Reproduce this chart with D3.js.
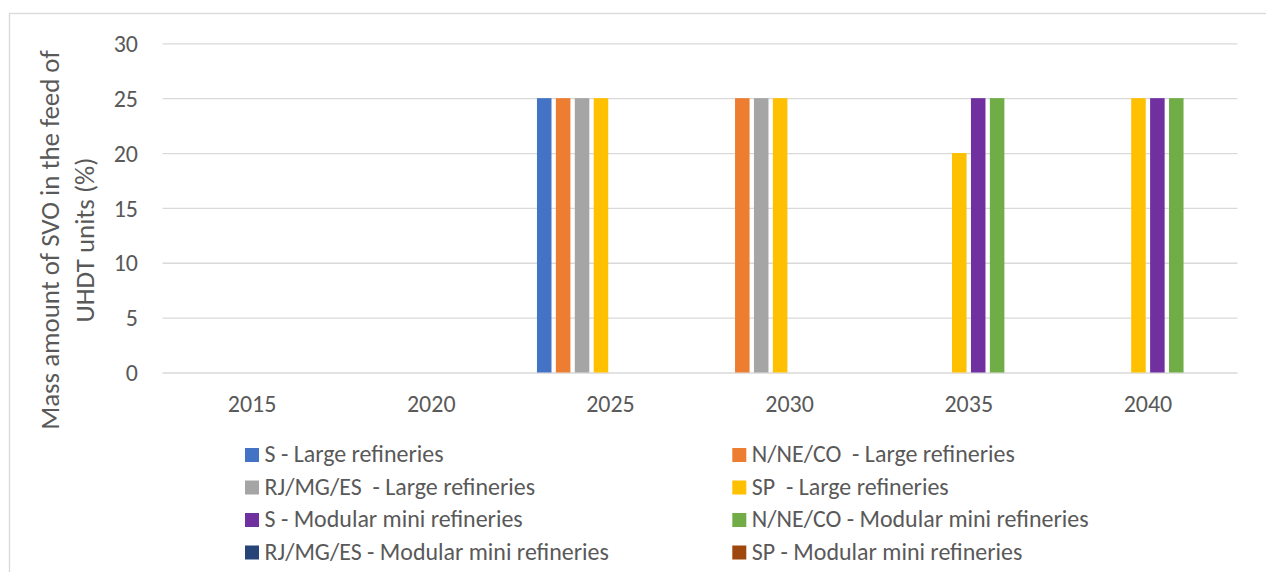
<!DOCTYPE html>
<html>
<head>
<meta charset="utf-8">
<script src="https://cdn.jsdelivr.net/npm/d3@7/dist/d3.min.js"></script>
<style>
  html, body { margin: 0; padding: 0; background: #fff; }
  svg { display: block; }
  text { font-family: Carlito, Lato, "Open Sans", sans-serif; fill: #595959; }
</style>
</head>
<body>
<svg id="chart" width="1266" height="572"></svg>
<script>
// ---- data ----
const years = ["2015", "2020", "2025", "2030", "2035", "2040"];
const seriesNames = [
  "S - Large refineries",
  "N/NE/CO  - Large refineries",
  "RJ/MG/ES  - Large refineries",
  "SP  - Large refineries",
  "S - Modular mini refineries",
  "N/NE/CO - Modular mini refineries",
  "RJ/MG/ES - Modular mini refineries",
  "SP - Modular mini refineries"
];
const sLarge        = [0, 0, 25, 0, 0, 0];
const nneLarge      = [0, 0, 25, 25, 0, 0];
const rjLarge       = [0, 0, 25, 25, 0, 0];
const spLarge       = [0, 0, 25, 25, 20, 25];
const sModular      = [0, 0, 0, 0, 25, 25];
const nneModular    = [0, 0, 0, 0, 25, 25];
const rjModular     = [0, 0, 0, 0, 0, 0];
const spModular     = [0, 0, 0, 0, 0, 0];
const seriesValues = [sLarge, nneLarge, rjLarge, spLarge, sModular, nneModular, rjModular, spModular];
const yTicks = [0, 5, 10, 15, 20, 25, 30];
const colors = ["#4472C4", "#ED7D31", "#A5A5A5", "#FFC000", "#7030A0", "#70AD47", "#264478", "#9E480E"];
const yTitle = ["Mass amount of SVO in the feed of", "UHDT units (%)"];

// ---- layout ----
const svg = d3.select("#chart");
const plotL = 162.5, plotR = 1237.5, plotT = 43.3, plotB = 372.5;

// font scale so the fallback font matches the original text widths
const probe = svg.append("text").style("font-size", "100px").text("S - Large refineries");
const f = 753.1 / probe.node().getComputedTextLength();
probe.remove();
const fsTick = 23.8 * f, fsLegend = 23.8 * f, fsTitle = 26.7 * f;

// chart border
svg.append("rect")
  .attr("x", 9.5).attr("y", 13.5).attr("width", 1300).attr("height", 700)
  .attr("fill", "none").attr("stroke", "#d9d9d9").attr("stroke-width", 1.3);

const x0 = d3.scaleBand().domain(years).range([plotL, plotR]).paddingInner(0.18).paddingOuter(0.09);
const x1 = d3.scaleBand().domain(d3.range(seriesNames.length)).range([0, x0.bandwidth()]).paddingInner(0.232);
const y = d3.scaleLinear().domain([0, 30]).range([plotB, plotT]);

// gridlines via axis
const yAxis = d3.axisLeft(y).tickValues(yTicks).tickSize(-(plotR - plotL)).tickPadding(24);
const gy = svg.append("g").attr("transform", `translate(${plotL},0)`).call(yAxis);
gy.select(".domain").remove();
gy.selectAll(".tick line").attr("stroke", "#d9d9d9").attr("stroke-width", 1.3);
gy.selectAll(".tick text")
  .attr("x", 138 - plotL).attr("dy", "0.34em")
  .style("font-size", fsTick + "px").style("font-family", null).attr("fill", null);

// bars
const groups = svg.append("g").selectAll("g")
  .data(years).join("g")
  .attr("transform", d => `translate(${x0(d)},0)`);
groups.selectAll("rect")
  .data((d, i) => seriesValues.map((vals, s) => ({ s, v: vals[i] })))
  .join("rect")
  .attr("x", d => x1(d.s))
  .attr("width", x1.bandwidth())
  .attr("y", d => y(d.v))
  .attr("height", d => y(0) - y(d.v))
  .attr("fill", d => colors[d.s]);

// x axis labels
const xAxis = d3.axisBottom(x0).tickSize(0).tickPadding(0);
const gx = svg.append("g").attr("transform", `translate(0,${plotB})`).call(xAxis);
gx.select(".domain").remove();
gx.selectAll(".tick text")
  .attr("y", 412 - plotB).attr("dy", 0)
  .style("font-size", fsTick + "px").style("font-family", null).attr("fill", null);

// y title
const titleX = [59, 94];
yTitle.forEach((t, i) => {
  svg.append("text")
    .attr("transform", `translate(${titleX[i]},240) rotate(-90)`)
    .attr("text-anchor", "middle")
    .style("font-size", fsTitle + "px")
    .text(t);
});

// legend
const legCols = [245, 732.3];
const legRows = [448, 480.5, 513, 545.5];
const leg = svg.append("g").selectAll("g")
  .data(seriesNames).join("g")
  .attr("transform", (d, i) => `translate(${legCols[i % 2]},${legRows[Math.floor(i / 2)]})`);
leg.append("rect").attr("width", 14).attr("height", 14).attr("fill", (d, i) => colors[i]);
leg.append("text")
  .attr("x", 19.5).attr("y", 14)
  .style("font-size", fsLegend + "px")
  .style("white-space", "pre")
  .attr("xml:space", "preserve")
  .text(d => d);
</script>
</body>
</html>
